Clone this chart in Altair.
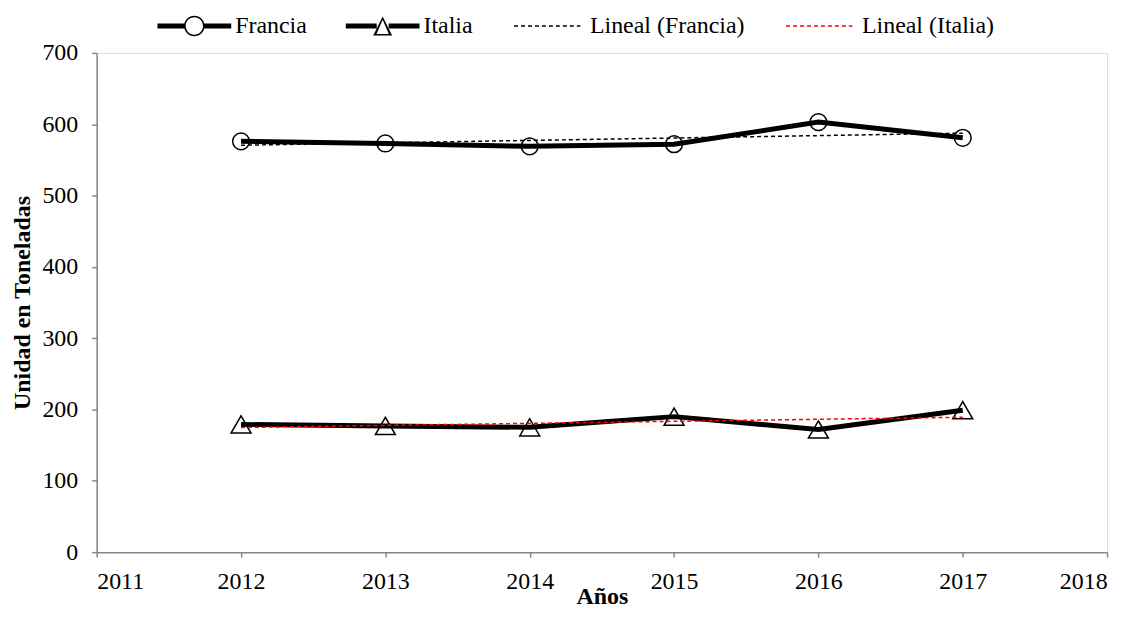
import altair as alt
import pandas as pd

years = [2012, 2013, 2014, 2015, 2016, 2017]
francia = [576, 573, 569, 572, 603, 581]
italia = [179, 177, 175, 190, 172, 199]
legend_names = ["Francia", "Italia", "Lineal (Francia)", "Lineal (Italia)"]
legend_colors = ["black", "black", "black", "red"]
x_ticks = [2011, 2012, 2013, 2014, 2015, 2016, 2017, 2018]
y_ticks = [0, 100, 200, 300, 400, 500, 600, 700]

FONT = "Times New Roman, Liberation Serif, serif"
AXIS_GRAY = "#868686"

df_f = pd.DataFrame({"year": years, "value": francia})
df_i = pd.DataFrame({"year": years, "value": italia})
df_leg = pd.DataFrame({"serie": legend_names})

# ---- custom legend symbol paths (unit box -1..1 maps to 74px) ----
U = 37.0
def px(v):
    return round(v / U, 4)

def rect(x0, x1, half):
    return f"M{x0},{-half}H{x1}V{half}H{x0}Z"

def ring(r_out, r_in):
    return (f"M{r_out},0A{r_out},{r_out} 0 1,1 {-r_out},0A{r_out},{r_out} 0 1,1 {r_out},0Z"
            f"M{r_in},0A{r_in},{r_in} 0 1,0 {-r_in},0A{r_in},{r_in} 0 1,0 {r_in},0Z")

def tri(h_out, inset):
    o = f"M0,{-h_out}L{h_out},{h_out}L{-h_out},{h_out}Z"
    hi = round(h_out - inset, 4)
    a = round(-h_out + inset * 2.2, 4)
    w = round(h_out - inset * 2.2, 4)
    i = f"M0,{a}L{-w},{hi}L{w},{hi}Z"
    return o + i

def dashes(x_start, x_end, dash, gap, half):
    out = []
    x = x_start
    while x < x_end - 1e-6:
        x1 = min(x + dash, x_end)
        out.append(rect(round(x, 4), round(x1, 4), half))
        x += dash + gap
    return "".join(out)

thick = px(2.6)
thin = px(0.8)
circ_r = px(9.5)
sym_francia = rect(-1, -circ_r, thick) + rect(circ_r, 1, thick) + ring(circ_r + px(0.8), circ_r - px(0.8))
tri_h = px(9.5)
sym_italia = rect(-1, -px(6), thick) + rect(px(6), 1, thick) + tri(tri_h, px(1.5))
sym_dash = dashes(-0.95, 0.85, px(4), px(3), thin)

x_enc = alt.X("year:Q", scale=alt.Scale(domain=[2011, 2018], nice=False),
              axis=alt.Axis(values=x_ticks, format="d", title="Años",
                            titleBaseline="alphabetic", titleY=52))
y_enc = alt.Y("value:Q", scale=alt.Scale(domain=[0, 700], nice=False),
              axis=alt.Axis(values=y_ticks, title="Unidad en Toneladas"))

line_f = alt.Chart(df_f).mark_line(color="black", strokeWidth=5).encode(x=x_enc, y=y_enc)
pts_f = alt.Chart(df_f).mark_point(shape="circle", size=283, filled=False,
                                    color="black", strokeWidth=1.5, opacity=1).encode(x=x_enc, y=y_enc)
line_i = alt.Chart(df_i).mark_line(color="black", strokeWidth=5).encode(x=x_enc, y=y_enc)
pts_i = alt.Chart(df_i).mark_point(shape="triangle-up", size=400, filled=False,
                                    color="black", strokeWidth=1.5, opacity=1).encode(x=x_enc, y=y_enc)

trend_f = alt.Chart(df_f).transform_regression(
    "year", "value", extent=[2012, 2017]
).mark_line(color="black", strokeWidth=1.5, strokeDash=[4, 3]).encode(x=x_enc, y=y_enc)
trend_i = alt.Chart(df_i).transform_regression(
    "year", "value", extent=[2012, 2017]
).mark_line(color="red", strokeWidth=1.5, strokeDash=[4, 3]).encode(x=x_enc, y=y_enc)

legend = alt.Legend(
    title=None, orient="none", direction="horizontal", columns=4,
    legendX=61, legendY=-64, symbolSize=74 * 74, symbolStrokeWidth=0,
    symbolOpacity=1, labelFont=FONT, labelFontSize=24, labelColor="black",
    labelOffset=4, columnPadding=39, padding=0, labelLimit=400,
)
leg_layer = alt.Chart(df_leg).mark_point(filled=True, opacity=0).encode(
    shape=alt.Shape("serie:N", scale=alt.Scale(domain=legend_names,
                    range=[sym_francia, sym_italia, sym_dash, sym_dash]), legend=legend),
    color=alt.Color("serie:N", scale=alt.Scale(domain=legend_names, range=legend_colors),
                    legend=legend),
)

chart = alt.layer(line_f, line_i, pts_f, pts_i, trend_f, trend_i, leg_layer).properties(
    width=1014, height=501,
    autosize=alt.AutoSizeParams(type="none"),
    padding={"left": 89, "top": 44, "right": 23, "bottom": 59},
).configure_view(stroke=None).configure(font=FONT).configure_axis(
    grid=False, domainColor=AXIS_GRAY, tickColor=AXIS_GRAY, domainWidth=1.5, tickWidth=1.5,
    tickSize=5, labelFont=FONT, labelFontSize=24, labelColor="black",
    titleFont=FONT, titleFontSize=24, titleFontWeight="bold", titleColor="black",
).configure_axisX(labelPadding=12).configure_axisY(labelPadding=14, titlePadding=7)

chart.save("out.html", embed_options={"renderer": "svg", "actions": False})
